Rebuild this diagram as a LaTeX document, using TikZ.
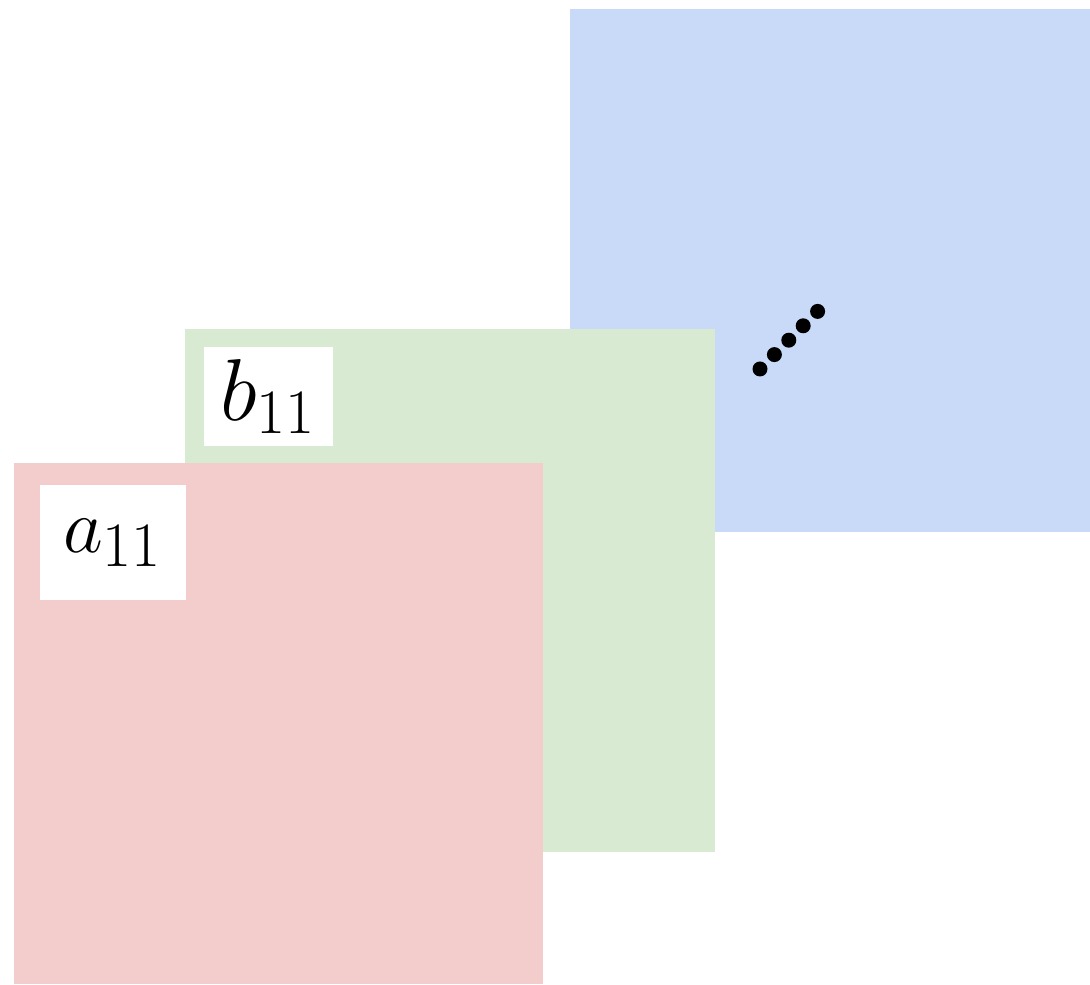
\documentclass[tikz,border=0pt]{standalone}
\usepackage{fix-cm}
\usepackage{amsmath}
\usepackage{xcolor}
\usepackage{tikz}
\usetikzlibrary{positioning}
\DeclareMathSizes{25}{25}{18}{12}
\DeclareMathSizes{22}{22}{18}{12}
\definecolor{layerblue}{RGB}{201, 218, 248}
\definecolor{layergreen}{RGB}{217, 234, 211}
\definecolor{layerred}{RGB}{243, 204, 204}
\tikzset{
  layer/.style={rectangle, draw=none, inner sep=0pt, outer sep=0pt,
    anchor=north west},
  tag/.style={rectangle, fill=white, draw=none, inner sep=0pt,
    text centered},
  dot/.style={circle, fill=black, inner sep=0pt, minimum size=0.15cm}
}
\begin{document}
\begin{tikzpicture}
\useasboundingbox (0,0) rectangle (10.90,-9.85);
\node (blue)  [layer, fill=layerblue, minimum width=5.20cm, minimum height=5.23cm]
  at (5.70,-0.09) {};
\node (green) [layer, fill=layergreen, minimum width=5.30cm, minimum height=5.23cm]
  at (1.85,-3.29) {};
\node (red)   [layer, fill=layerred, minimum width=5.29cm, minimum height=5.21cm]
  at (0.14,-4.63) {};

\node (b11) [tag, minimum width=1.29cm, minimum height=0.99cm,
  font=\fontsize{25}{30}\selectfont] at (2.685,-3.965) {$b_{11}$};
\node (a11) [tag, minimum width=1.46cm, minimum height=1.15cm,
  font=\fontsize{22}{26}\selectfont] at (1.13,-5.425) {$a_{11}$\hspace{0.12cm}};

\foreach \i in {0,...,4}
  \node (dot\i) [dot] at ({7.60+0.144*\i},{-3.69+0.144*\i}) {};
\end{tikzpicture}
\end{document}
